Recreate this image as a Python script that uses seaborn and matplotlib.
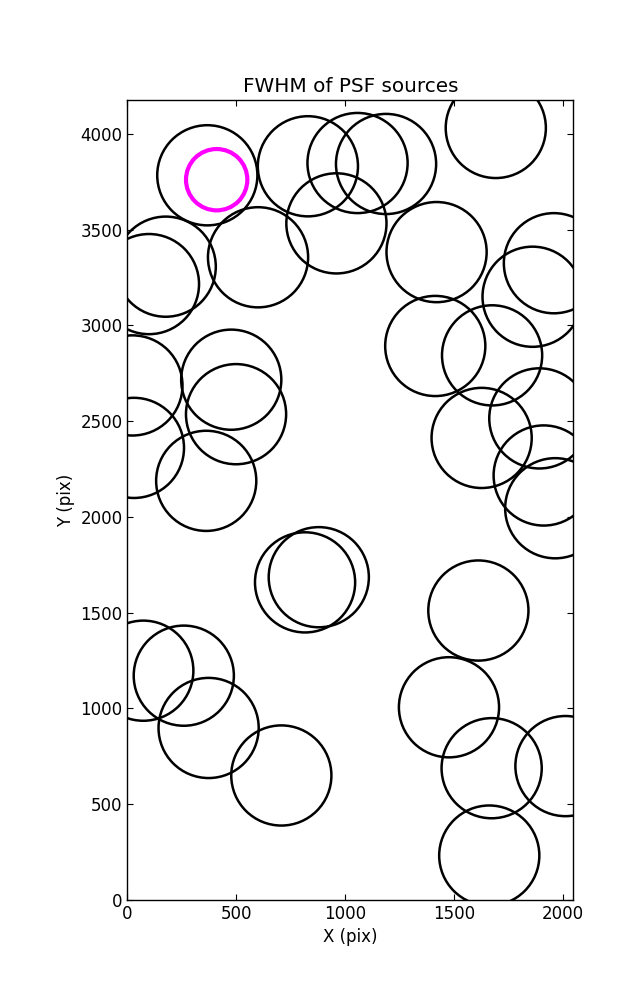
import matplotlib
matplotlib.use("Agg")
import matplotlib.pyplot as plt
import seaborn as sns
import pandas as pd

# PSF source positions (pixels)
src_x = [367, 600, 829, 1057, 1188, 960, 1692, 1420, 1959, 1861,
         176, 99, 1414, 1675, 23, 30, 477, 499, 362, 1627,
         1892, 1912, 1965, 816, 879, 1612, 73, 259, 373, 707,
         1477, 1673, 2012, 1662]
src_y = [3783, 3355, 3830, 3847, 3842, 3532, 4030, 3382, 3324, 3149,
         3306, 3215, 2892, 2843, 2686, 2360, 2716, 2536, 2188, 2412,
         2514, 2216, 2045, 1658, 1685, 1511, 1197, 1171, 898, 650,
         1006, 688, 699, 232]

# highlighted source
hl_x = [410]
hl_y = [3760]

title = "FWHM of PSF sources"
xlabel = "X (pix)"
ylabel = "Y (pix)"
xticks = [0, 500, 1000, 1500, 2000]
yticks = [0, 500, 1000, 1500, 2000, 2500, 3000, 3500, 4000]

sns.set_theme(style="ticks")
plt.rcParams.update({
    "font.family": ["DejaVu Sans"],
    "font.size": 12,
    "xtick.direction": "in",
    "ytick.direction": "in",
    "xtick.top": True,
    "ytick.right": True,
    "xtick.major.size": 4,
    "ytick.major.size": 4,
    "xtick.major.width": 0.8,
    "ytick.major.width": 0.8,
    "xtick.labelsize": 12,
    "ytick.labelsize": 12,
    "axes.labelsize": 12,
    "axes.titlesize": 14.4,
    "axes.linewidth": 1.0,
    "axes.edgecolor": "black",
    "xtick.color": "black",
    "ytick.color": "black",
    "text.color": "black",
    "axes.labelcolor": "black",
})

df = pd.DataFrame({"x": src_x, "y": src_y})
dh = pd.DataFrame({"x": hl_x, "y": hl_y})

fig = plt.figure(figsize=(6.37, 10.0), dpi=100)
ax = fig.add_axes([0.2, 0.1, 0.7, 0.8])

sns.scatterplot(data=df, x="x", y="y", ax=ax, s=5200, marker="o",
                facecolor="none", edgecolor="black", linewidth=1.8, legend=False)
sns.scatterplot(data=dh, x="x", y="y", ax=ax, s=1950, marker="o",
                facecolor="none", edgecolor="#ff00ff", linewidth=3, legend=False)

ax.set_xlim(0, 2048)
ax.set_ylim(0, 4176)
ax.set_xticks(xticks)
ax.set_yticks(yticks)
ax.set_title(title, pad=6)
ax.set_xlabel(xlabel, labelpad=4)
ax.set_ylabel(ylabel, labelpad=4)
for sp in ax.spines.values():
    sp.set_visible(True)

fig.savefig("out.png", dpi=100)
